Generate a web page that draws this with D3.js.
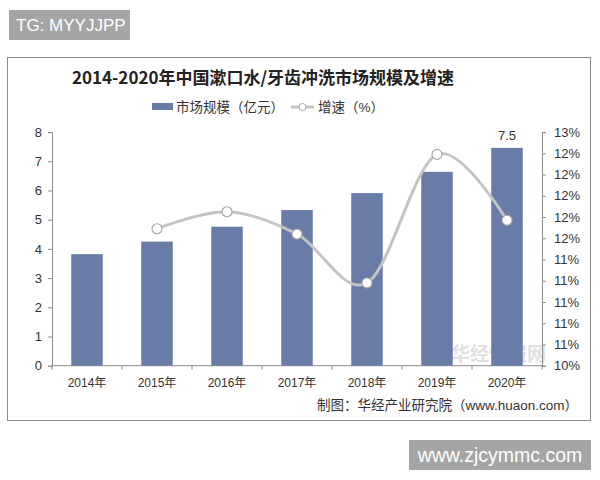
<!DOCTYPE html>
<html>
<head>
<meta charset="utf-8">
<script src="https://cdn.jsdelivr.net/npm/d3@7"></script>
<style>
  body { margin: 0; background: #fff; }
  svg { display: block; font-family: Arial, "Liberation Sans", "Noto Sans CJK SC", sans-serif; }
</style>
</head>
<body>
<svg width="600" height="480"></svg>
<script>
const width = 600, height = 480;
const svg = d3.select("svg");

// data
const years = ["2014年", "2015年", "2016年", "2017年", "2018年", "2019年", "2020年"];
const marketSize = [3.82, 4.25, 4.76, 5.33, 5.91, 6.64, 7.46];   // 亿元
const growthYears = ["2015年", "2016年", "2017年", "2018年", "2019年", "2020年"];
const growthRate = [11.69, 11.85, 11.64, 11.18, 12.39, 11.77];     // %
const leftTicks = [0, 1, 2, 3, 4, 5, 6, 7, 8];
const rightTicks = [10.4, 10.6, 10.8, 11.0, 11.2, 11.4, 11.6, 11.8, 12.0, 12.2, 12.4, 12.6];

const barColor = "#687ca7";
const lineColor = "#c4c4c4";
const textColor = "#333";

// top-left tag
svg.append("rect").attr("x", 9).attr("y", 10).attr("width", 121).attr("height", 30).attr("fill", "#a5a5a5");
svg.append("text").attr("x", 16).attr("y", 31).attr("fill", "#fff")
    .style("font-size", "17px").text("TG: MYYJJPP");

// chart frame
svg.append("rect").attr("x", 7.5).attr("y", 57.5).attr("width", 583).attr("height", 363)
    .attr("fill", "#fff").attr("stroke", "#8c8c8c").attr("stroke-width", 1);

// title
svg.append("text")
    .attr("x", 263).attr("y", 84)
    .attr("text-anchor", "middle")
    .style("font-family", "'Noto Sans CJK SC', sans-serif")
    .style("font-weight", "bold")
    .style("font-size", "17px")
    .attr("fill", "#222")
    .text("2014-2020年中国漱口水/牙齿冲洗市场规模及增速");

// scales
const x = d3.scaleBand().domain(years).range([52, 542]).paddingInner(0.55).paddingOuter(0.275);
const yL = d3.scaleLinear().domain([0, 8]).range([365.7, 132.1]);
const yR = d3.scaleLinear().domain([10.4, 12.6]).range([365.7, 132.1]);

// faint watermark (behind the marks)
svg.append("text").attr("x", 546).attr("y", 361).attr("text-anchor", "end")
    .attr("fill", "#d9d9d9").attr("opacity", 0.8)
    .style("font-size", "19px").style("font-weight", "bold").text("华经情报网");

// axes
const axL = svg.append("g").attr("transform", "translate(52,0)")
    .call(d3.axisLeft(yL).tickValues(leftTicks).tickSize(4).tickSizeOuter(4).tickPadding(6));
const axR = svg.append("g").attr("transform", "translate(542,0)")
    .call(d3.axisRight(yR).tickValues(rightTicks).tickSize(4).tickSizeOuter(4).tickPadding(8)
        .tickFormat(d => d3.format(".0f")(d) + "%"));

const xBounds = d3.scaleLinear().domain([0, years.length]).range([52, 542]);
const axX = svg.append("g").attr("transform", "translate(0,365.7)");
axX.append("line").attr("x1", 52).attr("x2", 542).attr("stroke", "#8c8c8c");
axX.selectAll(".xt").data(d3.range(years.length + 1)).enter().append("line")
    .attr("x1", d => xBounds(d)).attr("x2", d => xBounds(d)).attr("y1", 0).attr("y2", 4)
    .attr("stroke", "#8c8c8c");
axX.selectAll(".xl").data(years).enter().append("text")
    .attr("x", d => x(d) + x.bandwidth() / 2).attr("y", 21)
    .attr("text-anchor", "middle").attr("fill", textColor)
    .style("font-size", "12px").text(d => d);

[axL, axR].forEach(g => {
    g.select(".domain").attr("stroke", "#8c8c8c");
    g.selectAll(".tick line").attr("stroke", "#8c8c8c");
    g.selectAll(".tick text").attr("fill", textColor).style("font-size", "13px");
});

// bars
svg.selectAll(".bar").data(years).enter().append("rect")
    .attr("class", "bar")
    .attr("x", d => x(d))
    .attr("width", x.bandwidth())
    .attr("y", (d, i) => yL(marketSize[i]))
    .attr("height", (d, i) => yL(0) - yL(marketSize[i]))
    .attr("fill", barColor);

// value label on last bar
const last = years.length - 1;
svg.append("text")
    .attr("x", x(years[last]) + x.bandwidth() / 2)
    .attr("y", yL(marketSize[last]) - 8)
    .attr("text-anchor", "middle").attr("fill", textColor)
    .style("font-size", "13px")
    .text(d3.format(".1f")(marketSize[last]));

// growth line
const lineData = growthYears.map((yr, i) => ({ yr, v: growthRate[i] }));
svg.append("path")
    .datum(lineData)
    .attr("fill", "none")
    .attr("stroke", lineColor)
    .attr("stroke-width", 3)
    .attr("d", d3.line()
        .x(d => x(d.yr) + x.bandwidth() / 2)
        .y(d => yR(d.v))
        .curve(d3.curveCatmullRom.alpha(0)));

svg.selectAll(".dot").data(lineData).enter().append("circle")
    .attr("cx", d => x(d.yr) + x.bandwidth() / 2)
    .attr("cy", d => yR(d.v))
    .attr("r", 5)
    .attr("fill", "#fff")
    .attr("stroke", "#a6a6a6")
    .attr("stroke-width", 1.2);

// legend
const legend = svg.append("g").attr("transform", "translate(0,107)");
legend.append("rect").attr("x", 152).attr("y", -4).attr("width", 21).attr("height", 7).attr("fill", barColor);
legend.append("text").attr("x", 176).attr("y", 5).attr("fill", textColor)
    .style("font-size", "13.5px").text("市场规模（亿元）");
legend.append("line").attr("x1", 291).attr("x2", 314).attr("y1", 0).attr("y2", 0)
    .attr("stroke", lineColor).attr("stroke-width", 3);
legend.append("circle").attr("cx", 302.5).attr("cy", 0).attr("r", 3.5)
    .attr("fill", "#fff").attr("stroke", "#a6a6a6");
legend.append("text").attr("x", 318).attr("y", 5).attr("fill", textColor)
    .style("font-size", "13.5px").text("增速（%）");

// source
svg.append("text").attr("x", 578).attr("y", 410).attr("text-anchor", "end")
    .attr("fill", textColor).style("font-size", "13.5px")
    .text("制图：华经产业研究院（www.huaon.com）");

// bottom-right tag
svg.append("rect").attr("x", 409).attr("y", 440).attr("width", 182).attr("height", 30).attr("fill", "#a5a5a5");
svg.append("text").attr("x", 500).attr("y", 462).attr("text-anchor", "middle").attr("fill", "#fff")
    .style("font-size", "19.5px").text("www.zjcymmc.com");
</script>
</body>
</html>
